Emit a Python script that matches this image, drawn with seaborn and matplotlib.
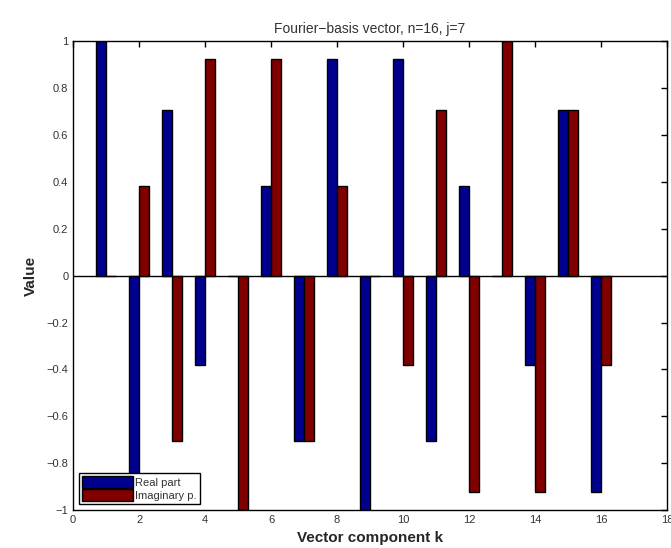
import matplotlib
matplotlib.use("Agg")
import matplotlib.pyplot as plt
import seaborn as sns
import pandas as pd

k = list(range(1, 17))
real_part = [1.0, -0.924, 0.707, -0.383, 0.0, 0.383, -0.707, 0.924,
             -1.0, 0.924, -0.707, 0.383, 0.0, -0.383, 0.707, -0.924]
imag_part = [0.0, 0.383, -0.707, 0.924, -1.0, 0.924, -0.707, 0.383,
             0.0, -0.383, 0.707, -0.924, 1.0, -0.924, 0.707, -0.383]
series = ["Real part", "Imaginary p."]
colors = ["#00008f", "#800000"]

df = pd.DataFrame({
    "k": k + k,
    "value": real_part + imag_part,
    "series": [series[0]] * len(k) + [series[1]] * len(k),
})

sns.set_style("white")
plt.rcParams["font.family"] = ["Liberation Sans", "DejaVu Sans"]

fig = plt.figure(figsize=(6.71, 5.48), dpi=100)
ax = fig.add_axes([0.109, 0.069, 0.885, 0.856])

sns.barplot(data=df, x="k", y="value", hue="series", native_scale=True,
            palette=colors, width=0.6, gap=0, edgecolor="black", linewidth=1,
            saturation=1, ax=ax, err_kws={"linewidth": 0})

ax.axhline(0, color="black", linewidth=1, zorder=0)
ax.set_xlim(0, 18)
ax.set_ylim(-1, 1)
ax.set_xticks(range(0, 19, 2))
ax.set_xticklabels([str(v) for v in range(0, 19, 2)])
yt = [-1, -0.8, -0.6, -0.4, -0.2, 0, 0.2, 0.4, 0.6, 0.8, 1]
ax.set_yticks(yt)
ax.set_yticklabels(["\u22121", "\u22120.8", "\u22120.6", "\u22120.4", "\u22120.2", "0",
                    "0.2", "0.4", "0.6", "0.8", "1"])
ax.tick_params(direction="in", length=4, width=1, labelsize=8, colors="black",
               top=True, right=True, labelcolor="#333333")
for s in ax.spines.values():
    s.set_color("black")
    s.set_linewidth(1)
    s.set_visible(True)

ax.set_title("Fourier\u2212basis vector, n=16, j=7", fontsize=10, color="#333333", pad=6)
ax.set_xlabel("Vector component k", fontsize=11, fontweight="bold", labelpad=4)
ax.set_ylabel("Value", fontsize=11, fontweight="bold", labelpad=6)

leg = ax.legend(loc="lower left", fontsize=8, frameon=True, fancybox=False,
                framealpha=1, borderpad=0.25, handlelength=4.6, handleheight=1.3,
                handletextpad=0.2, labelspacing=0.1, borderaxespad=0.55)
leg.get_frame().set_edgecolor("black")
leg.get_frame().set_facecolor("white")
leg.get_frame().set_linewidth(1)
for t in leg.get_texts():
    t.set_color("#333333")

fig.savefig("out.png", dpi=100)
